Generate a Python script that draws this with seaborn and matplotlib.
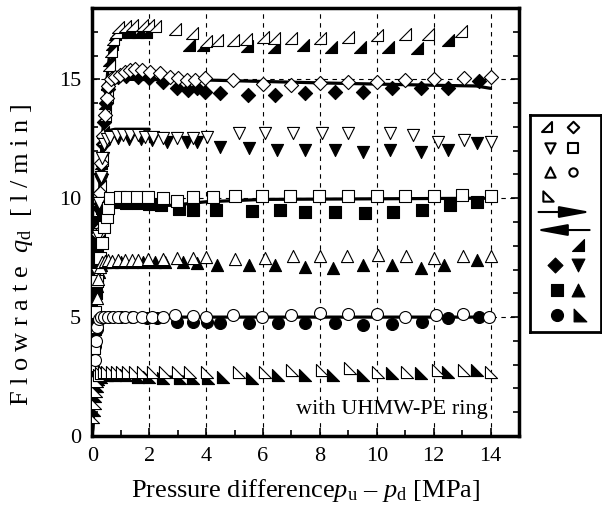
"""
Flowrate vs pressure difference, with UHMW-PE ring
"""

import numpy as np
import matplotlib
matplotlib.use('Agg')
import matplotlib.pyplot as plt
import matplotlib.path as mpath
from matplotlib.ticker import MultipleLocator
import seaborn as sns

# --- data ------------------------------------------------------------------
# series 1 (right triangle, right angle at bottom right)
s1_open_x = [0.15, 0.22, 0.28, 0.33, 0.38, 0.44, 0.5, 0.55, 0.6, 0.65, 0.72, 0.82,
             0.9, 1.15, 1.4, 1.75, 1.95, 2.2, 2.9, 3.5, 4.0, 4.4, 4.95, 5.4,
             6.0, 6.4, 7.0, 8.0, 9.0, 10.0, 11.0, 11.8, 12.95]
s1_open_y = [7.0, 9.0, 10.5, 11.6, 12.5, 13.5, 14.3, 15.0, 15.6, 16.2, 16.7, 17.0,
             17.2, 17.25, 17.3, 17.3, 17.3, 17.25, 17.1, 16.95, 16.6, 16.65, 16.65, 16.7,
             16.8, 16.75, 16.75, 16.75, 16.8, 16.85, 16.9, 16.9, 17.05]
s1_fill_x = [0.18, 0.25, 0.32, 0.38, 0.46, 0.53, 0.6, 0.68, 0.8, 1.0, 1.3, 1.6, 1.9,
             3.4, 3.9, 5.45, 6.4, 7.4, 8.4, 9.4, 10.4, 11.4, 12.5]
s1_fill_y = [8.0, 10.0, 11.5, 12.8, 14.0, 14.8, 15.8, 16.5, 16.9, 17.0, 17.0, 17.0, 17.0,
             16.45, 16.45, 16.4, 16.35, 16.45, 16.35, 16.35, 16.35, 16.3, 16.65]

# series 2 (diamonds)
s2_open_x = [0.14, 0.2, 0.26, 0.32, 0.38, 0.44, 0.5, 0.56, 0.65, 0.8,
             0.98, 1.15, 1.33, 1.5, 1.75, 2.03, 2.38, 2.74, 3.02, 3.34, 3.62, 3.97, 4.96,
             6.0, 7.0, 8.0, 9.0, 10.0, 11.0, 12.0, 13.05, 14.0]
s2_open_y = [6.5, 8.5, 10.2, 11.5, 12.6, 13.5, 14.2, 14.7, 15.0, 15.1,
             15.2, 15.3, 15.4, 15.45, 15.4, 15.3, 15.25, 15.1, 15.05, 14.97, 14.97, 15.05, 14.97,
             14.8, 14.76, 14.84, 14.89, 14.89, 14.97, 15.01, 15.05, 15.1]
s2_fill_x = [0.17, 0.24, 0.3, 0.36, 0.42, 0.48, 0.56, 0.7, 0.9, 1.2, 1.6, 2.0, 2.5,
             2.98, 3.37, 3.69, 3.97, 4.5, 5.48,
             6.43, 7.48, 8.54, 9.5, 10.55, 11.54, 12.49, 13.58]
s2_fill_y = [7.5, 9.6, 11.0, 12.3, 13.2, 14.0, 14.6, 15.0, 15.1, 15.15, 15.1, 15.05, 14.9,
             14.63, 14.55, 14.63, 14.47, 14.42, 14.34,
             14.34, 14.42, 14.47, 14.47, 14.63, 14.63, 14.63, 14.93]

# series 3 (down triangles)
s3_open_x = [0.1, 0.15, 0.2, 0.25, 0.3, 0.35, 0.42, 0.5,
             0.62, 0.87, 1.08, 1.33, 1.61, 1.86, 2.14, 2.49, 2.98, 3.55, 4.04, 5.14,
             6.08, 7.07, 8.08, 9.0, 10.48, 11.26, 12.17, 13.05, 14.0]
s3_open_y = [5.0, 6.8, 8.4, 9.8, 10.9, 11.7, 12.3, 12.5,
             12.57, 12.66, 12.66, 12.66, 12.66, 12.57, 12.57, 12.53, 12.53, 12.53, 12.57, 12.74,
             12.74, 12.74, 12.74, 12.74, 12.74, 12.66, 12.36, 12.45, 12.36]
s3_fill_x = [0.12, 0.18, 0.24, 0.3, 0.36, 0.45, 0.6, 0.9, 1.3, 1.7, 2.1,
             2.63, 3.34, 3.69, 4.5, 5.52,
             6.5, 7.48, 8.54, 9.5, 10.48, 11.54, 12.52, 13.54]
s3_fill_y = [6.0, 7.8, 9.4, 10.7, 11.7, 12.3, 12.5, 12.55, 12.5, 12.5, 12.45,
             12.36, 12.36, 12.36, 12.15, 12.12,
             12.03, 12.03, 12.03, 11.94, 12.03, 11.94, 12.03, 12.32]

# series 4 (squares)
s4_open_x = [0.05, 0.1, 0.18, 0.26, 0.34, 0.42, 0.5, 0.56,
             0.62, 0.98, 1.22, 1.57, 1.96, 2.49, 2.98, 3.55, 4.25, 5.03,
             5.95, 6.96, 7.96, 9.0, 10.0, 11.0, 12.0, 13.0, 14.0]
s4_open_y = [3.7, 5.2, 6.5, 7.5, 8.1, 8.8, 9.2, 9.6,
             10.0, 10.05, 10.05, 10.05, 10.05, 10.0, 9.9, 10.05, 10.05, 10.1,
             10.1, 10.1, 10.1, 10.1, 10.1, 10.1, 10.1, 10.15, 10.1]
s4_fill_x = [0.08, 0.13, 0.18, 0.22, 0.27, 0.33, 0.45, 0.8, 1.2, 1.6, 2.0, 2.4,
             3.05, 3.55, 4.35, 5.6,
             6.6, 7.48, 8.54, 9.6, 10.58, 11.6, 12.56, 13.54]
s4_fill_y = [4.5, 6.0, 7.2, 8.2, 9.0, 9.6, 9.85, 9.85, 9.8, 9.8, 9.75, 9.7,
             9.55, 9.5, 9.5, 9.45,
             9.5, 9.42, 9.42, 9.38, 9.4, 9.5, 9.71, 9.84]

# series 5 (up triangles)
s5_open_x = [0.05, 0.1, 0.15, 0.2, 0.27, 0.35, 0.45, 0.55,
             0.69, 0.91, 1.15, 1.4, 1.61, 1.96, 2.49, 2.98, 3.55, 4.01, 5.03,
             6.08, 7.07, 8.02, 8.97, 10.06, 11.02, 12.0, 13.02, 14.0]
s5_open_y = [3.0, 4.6, 5.8, 6.6, 7.1, 7.3, 7.35, 7.4,
             7.35, 7.4, 7.42, 7.42, 7.42, 7.45, 7.45, 7.48, 7.48, 7.52, 7.45,
             7.48, 7.55, 7.55, 7.55, 7.61, 7.55, 7.48, 7.55, 7.55]
s5_fill_x = [0.07, 0.12, 0.17, 0.23, 0.3, 0.45, 0.7, 1.0, 1.4, 1.8, 2.2,
             2.56, 3.19, 3.69, 4.39, 5.5,
             6.43, 7.48, 8.47, 9.53, 10.55, 11.54, 12.35, 13.54]
s5_fill_y = [3.8, 5.3, 6.3, 6.9, 7.2, 7.3, 7.3, 7.3, 7.3, 7.3, 7.3,
             7.3, 7.3, 7.27, 7.19, 7.19,
             7.19, 7.1, 7.06, 7.19, 7.19, 7.06, 7.19, 7.4]

# series 6 (circles)
s6_open_x = [0.04, 0.08, 0.12, 0.17, 0.24, 0.32, 0.42,
             0.55, 0.73, 0.91, 1.15, 1.44, 1.75, 2.1, 2.49, 2.91, 3.55, 4.01, 4.96,
             5.95, 7.0, 8.02, 9.0, 10.0, 11.0, 12.07, 13.02, 13.94]
s6_open_y = [2.3, 3.2, 4.0, 4.6, 4.9, 5.0, 5.0,
             5.0, 5.0, 5.0, 5.0, 5.0, 5.0, 5.0, 5.0, 5.09, 5.05, 5.0, 5.09,
             5.0, 5.09, 5.17, 5.13, 5.13, 5.0, 5.09, 5.13, 5.0]
s6_fill_x = [0.06, 0.1, 0.15, 0.2, 0.3, 0.6, 1.0, 1.4,
             1.92, 2.28, 2.98, 3.55, 4.04, 4.5, 5.5,
             6.54, 7.48, 8.54, 9.53, 10.55, 11.6, 12.52, 13.58]
s6_fill_y = [2.8, 3.8, 4.5, 4.85, 5.0, 5.0, 5.0, 5.0,
             4.96, 4.96, 4.79, 4.79, 4.79, 4.75, 4.77,
             4.75, 4.75, 4.75, 4.67, 4.72, 4.79, 4.96, 5.0]

# series 7 (right triangle, right angle at bottom left)
s7_open_x = [0.04, 0.08, 0.12, 0.17, 0.24, 0.32, 0.42,
             0.52, 0.69, 0.87, 1.05, 1.26, 1.5, 1.79, 2.14, 2.56, 3.02, 3.44, 4.04, 5.14,
             6.08, 7.03, 8.08, 9.07, 10.06, 11.08, 12.14, 13.05, 14.0]
s7_open_y = [0.8, 1.4, 1.9, 2.3, 2.55, 2.65, 2.7,
             2.69, 2.69, 2.69, 2.69, 2.69, 2.69, 2.69, 2.69, 2.69, 2.69, 2.69, 2.69, 2.69,
             2.69, 2.78, 2.78, 2.86, 2.69, 2.69, 2.78, 2.78, 2.69]
s7_fill_x = [0.06, 0.1, 0.15, 0.21, 0.3, 0.5, 0.8, 1.2, 1.6, 2.0, 2.5,
             3.09, 3.55, 4.08, 4.61, 5.6,
             6.54, 7.48, 8.47, 9.53, 10.55, 11.54, 12.52, 13.54]
s7_fill_y = [1.1, 1.7, 2.1, 2.4, 2.5, 2.55, 2.55, 2.55, 2.5, 2.5, 2.45,
             2.44, 2.44, 2.44, 2.48, 2.46,
             2.57, 2.57, 2.57, 2.57, 2.65, 2.65, 2.69, 2.78]

# thick solid curves
line1_x = [0.0, 0.2, 0.35, 0.5, 0.62, 0.75, 0.95, 1.3, 2.0]
line1_y = [0.0, 8.5, 12.5, 14.8, 16.2, 16.8, 17.0, 17.05, 17.05]
line2_x = [0.0, 0.2, 0.35, 0.5, 0.62, 0.8, 1.0, 4.0, 8.0, 12.0, 13.5, 14.0]
line2_y = [0.0, 8.5, 12.3, 14.2, 14.8, 15.0, 15.0, 14.97, 14.85, 14.75, 14.72, 14.62]
line3_x = [0.0, 0.15, 0.3, 0.45, 0.6, 0.8, 2.0]
line3_y = [0.0, 7.0, 11.2, 12.5, 12.85, 12.9, 12.9]
line4_x = [0.0, 0.12, 0.25, 0.4, 0.6, 1.0, 1.8, 2.8, 4.0, 6.0, 14.0]
line4_y = [0.0, 5.8, 8.6, 9.6, 9.95, 9.85, 9.7, 9.7, 9.85, 9.95, 10.0]
line5_x = [0.0, 0.1, 0.2, 0.35, 0.5, 2.3]
line5_y = [0.0, 4.8, 6.6, 7.15, 7.25, 7.25]
line6_x = [0.0, 0.07, 0.15, 0.25, 0.4, 14.0]
line6_y = [0.0, 3.3, 4.5, 4.9, 5.0, 5.0]
line7_x = [0.0, 0.05, 0.1, 0.18, 0.3, 3.5]
line7_y = [0.0, 1.2, 1.9, 2.35, 2.48, 2.48]

# --- style ------------------------------------------------------------------
sns.set_style('ticks')
plt.rcParams['font.family'] = ['Liberation Serif', 'DejaVu Serif']
plt.rcParams['mathtext.fontset'] = 'custom'
plt.rcParams['mathtext.rm'] = 'Liberation Serif'
plt.rcParams['mathtext.it'] = 'Liberation Serif:italic'
for key in ['axes.edgecolor', 'xtick.color', 'ytick.color', 'text.color',
            'axes.labelcolor']:
    plt.rcParams[key] = 'black'

tri_br = mpath.Path([(-1, -1), (1, -1), (1, 1), (-1, -1)], closed=True)   # right angle bottom right
tri_bl = mpath.Path([(-1, -1), (1, -1), (-1, 1), (-1, -1)], closed=True)  # right angle bottom left

series = [
    (s1_open_x, s1_open_y, s1_fill_x, s1_fill_y, tri_br, 76),
    (s2_open_x, s2_open_y, s2_fill_x, s2_fill_y, 'D', 52),
    (s3_open_x, s3_open_y, s3_fill_x, s3_fill_y, 'v', 76),
    (s4_open_x, s4_open_y, s4_fill_x, s4_fill_y, 's', 68),
    (s5_open_x, s5_open_y, s5_fill_x, s5_fill_y, '^', 76),
    (s6_open_x, s6_open_y, s6_fill_x, s6_fill_y, 'o', 74),
    (s7_open_x, s7_open_y, s7_fill_x, s7_fill_y, tri_bl, 76),
]
lines = [(line1_x, line1_y), (line2_x, line2_y), (line3_x, line3_y), (line4_x, line4_y),
         (line5_x, line5_y), (line6_x, line6_y), (line7_x, line7_y)]

fig = plt.figure(figsize=(6.02, 5.15), dpi=100)
ax = fig.add_axes([0.1533, 0.1534, 0.7088, 0.8311])

for lx, ly in lines:
    sns.lineplot(x=lx, y=ly, color='black', linewidth=2.3, sort=False,
                 estimator=None, ax=ax, zorder=2)

for ox, oy, fx, fy, mk, sz in series:
    sns.scatterplot(x=fx, y=fy, marker=mk, s=sz, color='black', edgecolor='black',
                    linewidth=0.8, ax=ax, zorder=3)
    sns.scatterplot(x=ox, y=oy, marker=mk, s=sz, color='white', edgecolor='black',
                    linewidth=0.8, ax=ax, zorder=4)

ax.set_xlim(0, 15)
ax.set_ylim(0, 18)
ax.xaxis.set_major_locator(MultipleLocator(2))
ax.xaxis.set_minor_locator(MultipleLocator(1))
ax.yaxis.set_major_locator(MultipleLocator(5))
ax.yaxis.set_minor_locator(MultipleLocator(1))
ax.set_xticks([0, 2, 4, 6, 8, 10, 12, 14])
ax.tick_params(which='both', direction='in', top=False, right=True, width=1.2,
               labelsize=16, pad=8)
ax.tick_params(which='major', length=6)
ax.tick_params(which='minor', length=4)
ax.grid(True, which='major', color='black', linestyle=(0, (4, 4)), linewidth=0.8)
ax.set_axisbelow(True)
for sp in ax.spines.values():
    sp.set_linewidth(2.5)

ax.set_xlabel(r'Pressure difference$p_{\mathrm{u}}$ – $p_{\mathrm{d}}$ [MPa]', fontsize=19)
ax.set_ylabel('F l o w r a t e  $q_{\\mathrm{d}}$  [ l / m i n ]', fontsize=19)
ax.xaxis.set_label_coords(0.5, -0.095)
ax.yaxis.set_label_coords(-0.135, 0.423)

ax.text(13.9, 1.1, 'with UHMW-PE ring', ha='right', va='center', fontsize=16,
        bbox=dict(facecolor='white', edgecolor='none', pad=0.5), zorder=5)

# --- hand made key on the right ----------------------------------------------
lax = fig.add_axes([0.8804, 0.3553, 0.1179, 0.4214])
lax.set_xlim(0, 1)
lax.set_ylim(0, 1)
lax.set_xticks([])
lax.set_yticks([])
for sp in lax.spines.values():
    sp.set_linewidth(2.0)
    sp.set_color('black')

key_open = [(0.24, 0.945, tri_br, 55), (0.61, 0.945, 'D', 34),
            (0.28, 0.848, 'v', 55), (0.61, 0.848, 's', 44),
            (0.28, 0.737, '^', 55), (0.61, 0.737, 'o', 36),
            (0.25, 0.627, tri_bl, 55)]
key_fill = [(0.68, 0.40, tri_br, 85),
            (0.35, 0.31, 'D', 58), (0.68, 0.31, 'v', 85),
            (0.38, 0.194, 's', 75), (0.68, 0.194, '^', 85),
            (0.38, 0.078, 'o', 75), (0.70, 0.078, tri_bl, 85)]
for kx, ky, mk, sz in key_open:
    lax.scatter([kx], [ky], marker=mk, s=sz, facecolor='white', edgecolor='black',
                linewidth=1.5)
for kx, ky, mk, sz in key_fill:
    lax.scatter([kx], [ky], marker=mk, s=sz, facecolor='black', edgecolor='black',
                linewidth=0.8)

lax.annotate('', xy=(0.86, 0.553), xytext=(0.12, 0.553),
             arrowprops=dict(arrowstyle='-|>,head_length=1.9,head_width=0.35',
                             color='black', lw=1.5, shrinkA=0, shrinkB=0))
lax.annotate('', xy=(0.08, 0.47), xytext=(0.84, 0.47),
             arrowprops=dict(arrowstyle='-|>,head_length=1.9,head_width=0.35',
                             color='black', lw=1.5, shrinkA=0, shrinkB=0))

fig.savefig('out.png', dpi=100)
plt.close()
